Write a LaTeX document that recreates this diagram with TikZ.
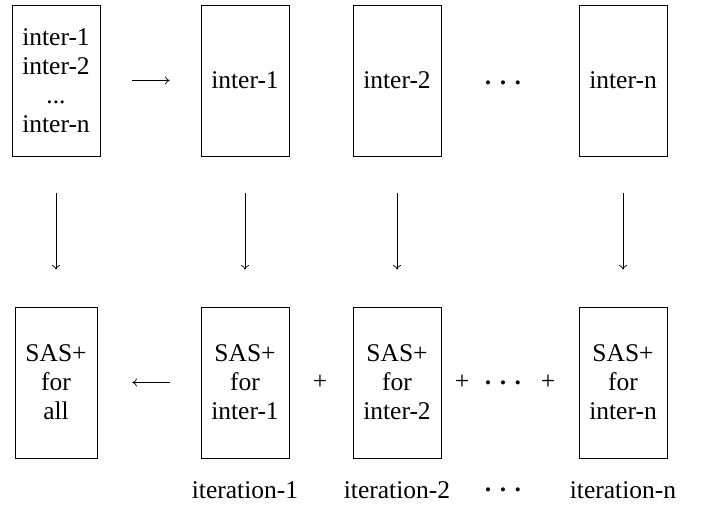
\documentclass[tikz,border=0pt]{standalone}
\usepackage{fontspec}
\setmainfont{Liberation Serif}
\usetikzlibrary{arrows.meta}
\begin{document}
\begin{tikzpicture}[x=1pt,y=-1pt,
  font=\fontsize{25.5}{29}\selectfont,
  box/.style={draw,line width=0.9pt,inner sep=0pt,minimum width=88pt,minimum height=151pt,align=center},
  flow/.style={line width=0.7pt,-{To[length=4.5pt,width=8pt]}},
  dots/.style={inner sep=0pt,anchor=base,yshift=-5pt}]
\useasboundingbox (0,0) rectangle (709,510);
\newcommand{\bulletrow}{{\fontsize{17}{17}\selectfont\textbullet\hspace{9pt}\textbullet\hspace{9pt}\textbullet}}

% top row: the full set and its single members
\node[box] (all)  at (56,80.5)  {inter-1\\inter-2\\...\\inter-n};
\node[box] (i1)   at (245,80.5) {inter-1};
\node[box] (i2)   at (397,80.5) {inter-2};
\node[dots] (tdots) at (503,84) {\bulletrow};
\node[box] (in)   at (623,80.5) {inter-n};

% bottom row: SAS+ results
\node[box,minimum width=82pt] (sall) at (56,382.5) {SAS+\\for\\all};
\node[box] (s1) at (245,382.5) {SAS+\\for\\inter-1};
\node[box] (s2) at (397,382.5) {SAS+\\for\\inter-2};
\node[box] (sn) at (623,382.5) {SAS+\\for\\inter-n};

\node (p1) at (320,382) {+};
\node (p2) at (462,382) {+};
\node[dots] (bdots) at (503,383) {\bulletrow};
\node (p3) at (548,382) {+};

% iteration labels
\node (it1) at (245,490) {iteration-1};
\node (it2) at (397,490) {iteration-2};
\node[dots] (idots) at (503,490) {\bulletrow};
\node (itn) at (623,490) {iteration-n};

% connectors
\draw[flow,shorten <=32pt,shorten >=31pt] (all.east) -- (i1.west);
\draw[flow,shorten <=31pt,shorten >=35pt] (s1.west) -- (sall.east);
\foreach \a/\b in {all/sall,i1/s1,i2/s2,in/sn}
  \draw[flow,shorten <=37pt,shorten >=37pt] (\a.south) -- (\b.north);
\end{tikzpicture}
\end{document}
